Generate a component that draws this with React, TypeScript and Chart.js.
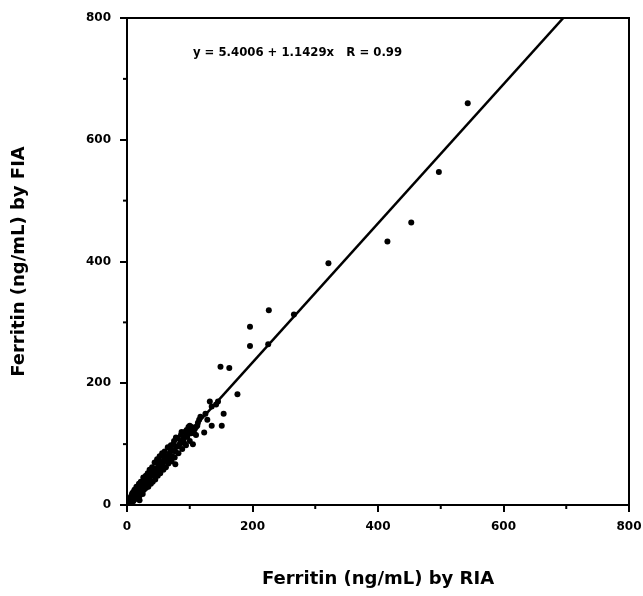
import React, { useEffect, useRef } from "react";
import { Chart, registerables } from "chart.js";

Chart.register(...registerables);

// Ferritin by RIA (x) and by FIA (y), ng/mL
const riaValues: number[] = [
  543, 497, 453, 415, 321, 226, 266, 196, 196, 225, 149, 163, 176, 132, 135, 154, 135, 151, 117, 123, 95, 78, 77,
  2, 3, 4, 5, 6, 7, 8, 9, 10, 10, 12, 12, 14, 15, 16, 18, 19, 20, 21, 22, 24, 25, 26, 27, 28, 30, 30, 32, 33, 34,
  35, 36, 38, 39, 40, 41, 42, 44, 45, 46, 48, 49, 50, 52, 53, 55, 56, 58, 59, 60, 62, 63, 65, 66, 68, 70, 71, 73,
  75, 76, 78, 80, 82, 84, 86, 88, 90, 92, 94, 96, 98, 100, 102, 105, 108, 110, 113, 100, 105, 110, 115, 125, 128,
  142, 145, 88, 60, 45, 28, 14,
  5, 8, 11, 13, 17, 20, 23, 25, 29, 31, 34, 37, 40, 43, 47, 50, 51, 54, 57, 61, 64, 67, 69, 72, 74, 77, 81, 85,
  87, 91, 93, 97, 99, 103, 107, 112
];
const fiaValues: number[] = [
  660, 547, 464, 433, 397, 320, 313, 293, 261, 264, 227, 225, 182, 170, 162, 150, 130, 130, 145, 119, 123, 111, 67,
  3, 8, 5, 12, 4, 15, 10, 20, 6, 14, 25, 9, 18, 30, 12, 22, 35, 15, 28, 38, 20, 32, 45, 25, 36, 48, 28, 40, 52, 30,
  44, 58, 35, 48, 62, 38, 55, 70, 42, 60, 75, 48, 66, 80, 52, 70, 85, 58, 75, 88, 62, 80, 95, 68, 85, 98, 72, 90,
  105, 78, 96, 110, 85, 100, 115, 92, 108, 120, 98, 112, 128, 105, 118, 100, 125, 115, 135, 130, 120, 128, 140, 150, 140,
  165, 170, 105, 80, 55, 38, 22,
  2, 18, 22, 12, 28, 8, 30, 18, 42, 34, 48, 40, 50, 48, 55, 58, 72, 62, 68, 72, 74, 78, 92, 80, 100, 88, 96, 105,
  120, 102, 112, 118, 122, 128, 118, 130
];

// Regression shown on the chart
const intercept = 5.4006;
const slope = 1.1429;
const fitX: number[] = [0, 695.3];
const equationText = "y = 5.4006 + 1.1429x   R = 0.99";

const xTicks: number[] = [0, 200, 400, 600, 800];
const minorTicks: number[] = [100, 300, 500, 700];
const xTitle = "Ferritin (ng/mL) by RIA";
const yTitle = "Ferritin (ng/mL) by FIA";

const FONT = "'DejaVu Sans', 'Liberation Sans', Arial, sans-serif";

export default function App() {
  const ref = useRef<HTMLCanvasElement | null>(null);

  useEffect(() => {
    if (!ref.current) return;
    const points = riaValues.map((x, i) => ({ x, y: fiaValues[i] }));
    const fit = fitX.map((x) => ({ x, y: intercept + slope * x }));

    const framePlugin = {
      id: "frame",
      afterDraw(chart: any) {
        const { ctx, chartArea, scales } = chart;
        const xs = scales.x;
        const ys = scales.y;
        ctx.save();
        ctx.strokeStyle = "#000";
        ctx.lineWidth = 2;
        ctx.strokeRect(chartArea.left, chartArea.top, chartArea.right - chartArea.left, chartArea.bottom - chartArea.top);
        for (const v of minorTicks) {
          const px = xs.getPixelForValue(v);
          ctx.beginPath();
          ctx.moveTo(px, chartArea.bottom);
          ctx.lineTo(px, chartArea.bottom + 4);
          ctx.stroke();
          const py = ys.getPixelForValue(v);
          ctx.beginPath();
          ctx.moveTo(chartArea.left, py);
          ctx.lineTo(chartArea.left - 4, py);
          ctx.stroke();
        }
        ctx.fillStyle = "#000";
        ctx.font = `bold 11.7px ${FONT}`;
        ctx.textAlign = "left";
        ctx.textBaseline = "middle";
        ctx.fillText(equationText, xs.getPixelForValue(105), ys.getPixelForValue(742));
        ctx.restore();
      },
    };

    const chart = new Chart(ref.current, {
      type: "scatter",
      data: {
        datasets: [
          {
            data: points,
            backgroundColor: "#000",
            borderColor: "#000",
            borderWidth: 0,
            pointRadius: 3,
          },
          {
            type: "line",
            data: fit,
            borderColor: "#000",
            borderWidth: 2.5,
            pointRadius: 0,
            showLine: true,
            fill: false,
          } as any,
        ],
      },
      options: {
        animation: false,
        responsive: true,
        maintainAspectRatio: false,
        layout: { padding: { top: 18, right: 14, left: 0, bottom: 0 } },
        plugins: { legend: { display: false }, tooltip: { enabled: false } },
        scales: {
          x: {
            type: "linear",
            min: 0,
            max: 800,
            afterBuildTicks: (s: any) => {
              s.ticks = xTicks.map((v) => ({ value: v }));
            },
            afterFit: (s: any) => {
              s.height = 91;
              s.paddingRight = 0;
              s.paddingLeft = 0;
            },
            ticks: {
              color: "#000",
              font: { family: FONT, size: 12, weight: "bold" },
              padding: 8,
              maxRotation: 0,
            },
            grid: { drawOnChartArea: false, color: "#000", tickLength: 7, lineWidth: 2 },
            border: { display: true, color: "#000", width: 2 },
            title: {
              display: true,
              text: xTitle,
              color: "#000",
              font: { family: FONT, size: 18, weight: "bold" },
              padding: { top: 0, bottom: 6 },
            },
          },
          y: {
            type: "linear",
            min: 0,
            max: 800,
            afterBuildTicks: (s: any) => {
              s.ticks = xTicks.map((v) => ({ value: v }));
            },
            afterFit: (s: any) => {
              s.width = 127;
            },
            ticks: {
              color: "#000",
              font: { family: FONT, size: 12, weight: "bold" },
              padding: 9,
            },
            grid: { drawOnChartArea: false, color: "#000", tickLength: 7, lineWidth: 2 },
            border: { display: true, color: "#000", width: 2 },
            title: {
              display: true,
              text: yTitle,
              color: "#000",
              font: { family: FONT, size: 18, weight: "bold" },
              padding: { top: 9, bottom: 0 },
            },
          },
        },
      },
      plugins: [framePlugin],
    });
    return () => chart.destroy();
  }, []);

  return (
    <div style={{ position: "absolute", left: 0, top: 0, width: 643, height: 596, background: "#fff" }}>
      <canvas ref={ref} />
    </div>
  );
}
